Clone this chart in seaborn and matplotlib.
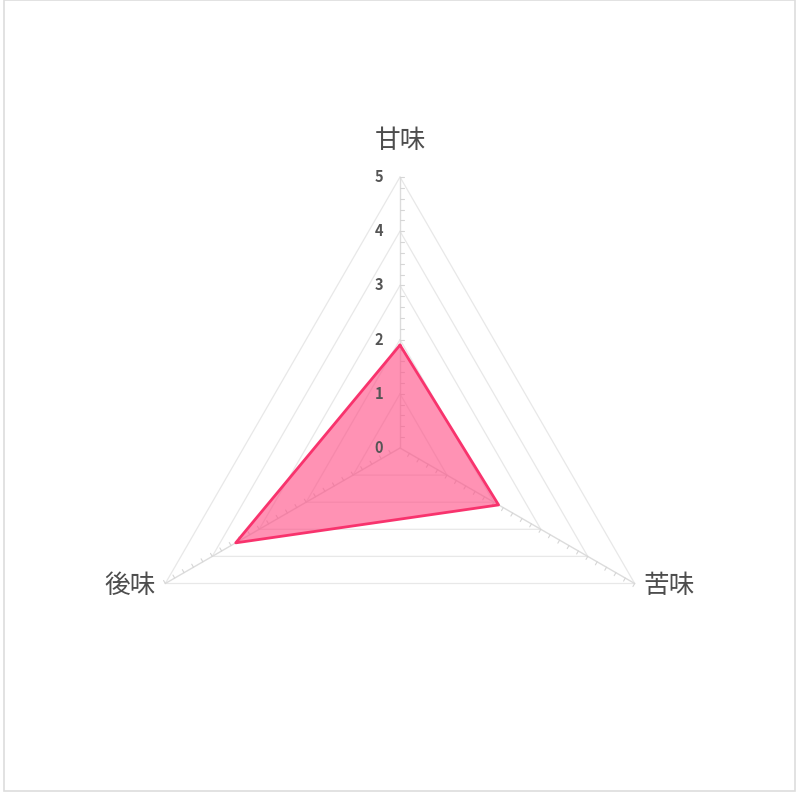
import numpy as np
import pandas as pd
import matplotlib
matplotlib.use("Agg")
import matplotlib.pyplot as plt
import seaborn as sns

categories = ["甘味", "苦味", "後味"]
values = [1.9, 2.1, 3.5]
tick_labels = ["0", "1", "2", "3", "4", "5"]
rmax = 5

sns.set_theme(style="white")
plt.rcParams['font.family'] = ['Noto Sans CJK JP', 'DejaVu Sans']

fig = plt.figure(figsize=(8, 8), dpi=100)
ax = fig.add_axes([0, 0, 1, 1])
ppu = 54.2
ax.set_xlim(-400 / ppu, 400 / ppu)
ax.set_ylim(-352 / ppu, 448 / ppu)
ax.set_axis_off()

angles = np.deg2rad([90, -30, 210])
ux, uy = np.cos(angles), np.sin(angles)

# grid triangles
for r in range(1, rmax + 1):
    xs = np.append(ux * r, ux[0] * r)
    ys = np.append(uy * r, uy[0] * r)
    ax.plot(xs, ys, color="#e8e8e8", lw=0.9, zorder=1)

# axis spokes and minor ticks
tl = 3.5 / ppu
for i in range(3):
    ax.plot([0, ux[i] * rmax], [0, uy[i] * rmax], color="#dcdcdc", lw=1.0, zorder=1)
    px, py = uy[i], -ux[i]  # clockwise perpendicular
    for t in np.arange(0.2, rmax + 0.01, 0.2):
        bx, by = ux[i] * t, uy[i] * t
        ax.plot([bx, bx + px * tl], [by, by + py * tl], color="#d6d6d6", lw=0.8, zorder=1)

# data polygon
dx = np.array(values) * ux
dy = np.array(values) * uy
ax.fill(dx, dy, color="#ff4f86", alpha=0.62, lw=0, zorder=2)
df = pd.DataFrame({"x": np.append(dx, dx[0]), "y": np.append(dy, dy[0])})
sns.lineplot(data=df, x="x", y="y", sort=False, estimator=None, color="#f8336d", lw=2, ax=ax, zorder=3)
ax.set_axis_off()

# tick labels
for i, lab in enumerate(tick_labels):
    ax.text(-17 / ppu, i, lab, ha="right", va="center", fontsize=10.5,
            fontweight="bold", color="#555555", zorder=4)

# category labels
fs = 18.5
ax.text(0, 5.66, categories[0], ha="center", va="center", fontsize=fs, color="#4d4d4d")
ax.text(ux[1] * rmax + 9 / ppu, uy[1] * rmax - 0.05, categories[1], ha="left", va="center", fontsize=fs, color="#4d4d4d")
ax.text(ux[2] * rmax - 9 / ppu, uy[2] * rmax - 0.05, categories[2], ha="right", va="center", fontsize=fs, color="#4d4d4d")

# outer border
fig.patches.append(plt.Rectangle((4 / 800, 9 / 800), 791 / 800, 791 / 800, transform=fig.transFigure,
                                 fill=False, edgecolor="#dddddd", lw=1.2))

fig.savefig("out.png", dpi=100)
